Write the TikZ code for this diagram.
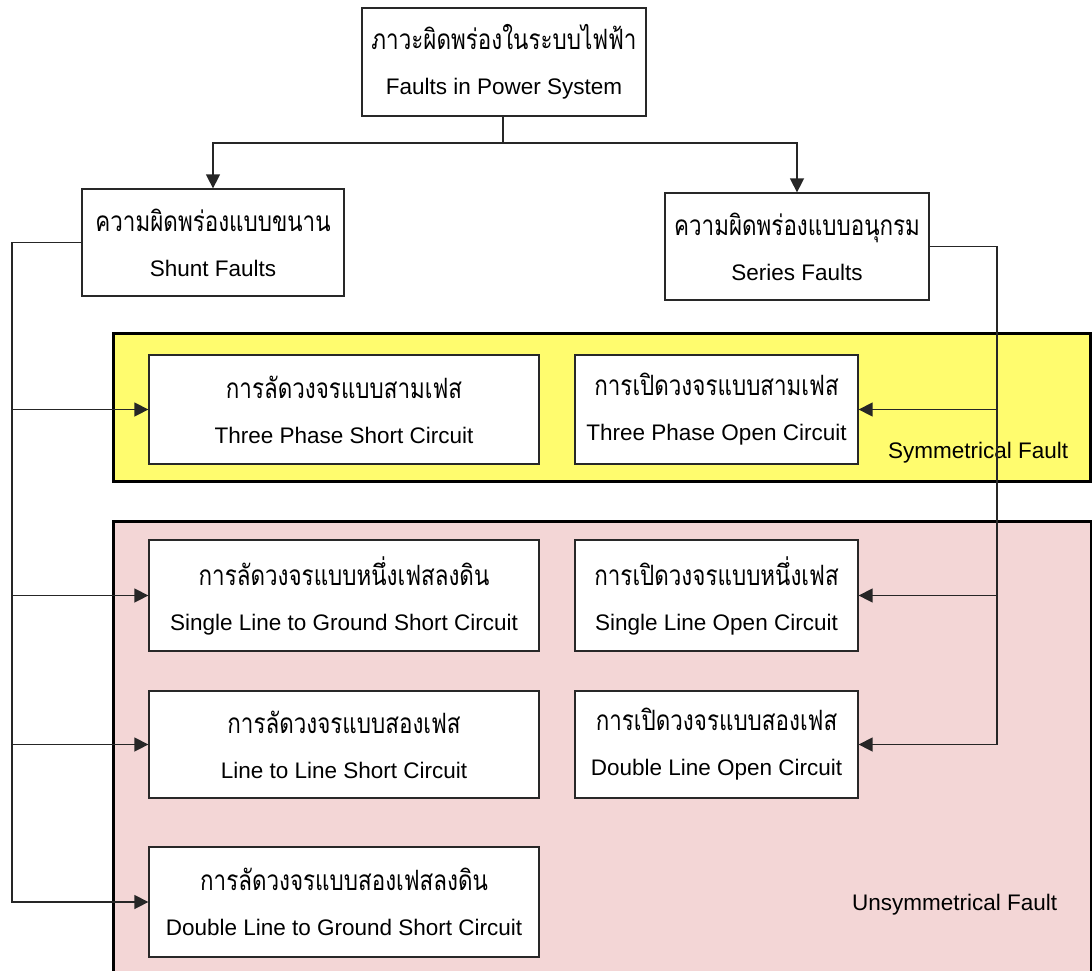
\documentclass[tikz,border=0pt]{standalone}
\usepackage{fontspec}
\setmainfont{Liberation Sans}
\newfontfamily\thaifont[Script=Thai, FakeStretch=0.8]{Loma}
\usetikzlibrary{arrows.meta}

\definecolor{symfill}{RGB}{255,252,110}
\definecolor{unsymfill}{RGB}{243,214,214}
\definecolor{boxline}{RGB}{40,40,40}

\newcommand{\thaitext}[1]{{\thaifont\fontsize{28}{45}\selectfont #1}}

\tikzset{
  faultbox/.style={draw=boxline, line width=1.3pt, fill=white, align=center,
    inner sep=0pt, font=\fontsize{22.5}{45}\selectfont},
  band/.style={draw=black, line width=3pt},
  feed/.style={draw=black!85, line width=1.5pt},
  feedarrow/.style={feed, -{Triangle[length=14pt,width=14pt]}},
  bandlabel/.style={anchor=base west, inner sep=0pt, font=\fontsize{22.5}{27}\selectfont}
}

\begin{document}
\begin{tikzpicture}[x=1pt,y=-1pt]
\useasboundingbox (0,0) rectangle (1092,970);
\clip (0,0) rectangle (1092,970);

% groups of fault types
\draw[band, fill=symfill]   (113,333) rectangle (1090,481);
\draw[band, fill=unsymfill] (113,521) rectangle (1091,1000);

\node[bandlabel] (symlabel)   at (888,458) {Symmetrical Fault};
\node[bandlabel] (unsymlabel) at (852,910) {Unsymmetrical Fault};

% hierarchy
\node[faultbox, minimum width=284pt, minimum height=108pt] (top) at (504,62)
  {\thaitext{ภาวะผิดพร่องในระบบไฟฟ้า}\\Faults in Power System};
\node[faultbox, minimum width=262pt, minimum height=107pt] (shunt) at (213,242.5)
  {\thaitext{ความผิดพร่องแบบขนาน}\\Shunt Faults};
\node[faultbox, minimum width=264pt, minimum height=107pt] (series) at (797,246.5)
  {\thaitext{ความผิดพร่องแบบอนุกรม}\\Series Faults};

% shunt faults (left column)
\node[faultbox, minimum width=390pt, minimum height=109pt] (tpsc) at (344,409.5)
  {\thaitext{การลัดวงจรแบบสามเฟส}\\Three Phase Short Circuit};
\node[faultbox, minimum width=390pt, minimum height=111pt] (slg) at (344,595.5)
  {\thaitext{การลัดวงจรแบบหนึ่งเฟสลงดิน}\\Single Line to Ground Short Circuit};
\node[faultbox, minimum width=390pt, minimum height=107pt] (ll) at (344,744.5)
  {\thaitext{การลัดวงจรแบบสองเฟส}\\Line to Line Short Circuit};
\node[faultbox, minimum width=390pt, minimum height=110pt] (dlg) at (344,902)
  {\thaitext{การลัดวงจรแบบสองเฟสลงดิน}\\Double Line to Ground Short Circuit};

% series faults (right column)
\node[faultbox, minimum width=283pt, minimum height=109pt] (tpoc) at (716.5,409.5)
  {\thaitext{การเปิดวงจรแบบสามเฟส}\\Three Phase Open Circuit};
\node[faultbox, minimum width=283pt, minimum height=111pt] (slo) at (716.5,595.5)
  {\thaitext{การเปิดวงจรแบบหนึ่งเฟส}\\Single Line Open Circuit};
\node[faultbox, minimum width=283pt, minimum height=107pt] (dlo) at (716.5,744.5)
  {\thaitext{การเปิดวงจรแบบสองเฟส}\\Double Line Open Circuit};

% connectors
\coordinate (split) at (503,143);
\coordinate (lbus) at (12,0);
\coordinate (rbus) at (997,0);

\draw[feed] (top.south -| split) -- (split);
\draw[feedarrow] (split) -| (shunt.north);
\draw[feedarrow] (split) -| (series.north);

\draw[feedarrow] (shunt.west) -| (lbus |- dlg.west) -- (dlg.west);
\foreach \b in {tpsc,slg,ll}
  \draw[feedarrow] (lbus |- \b.west) -- (\b.west);

\draw[feedarrow] (series.east) -| (rbus |- dlo.east) -- (dlo.east);
\foreach \b in {tpoc,slo}
  \draw[feedarrow] (rbus |- \b.east) -- (\b.east);
\end{tikzpicture}
\end{document}
